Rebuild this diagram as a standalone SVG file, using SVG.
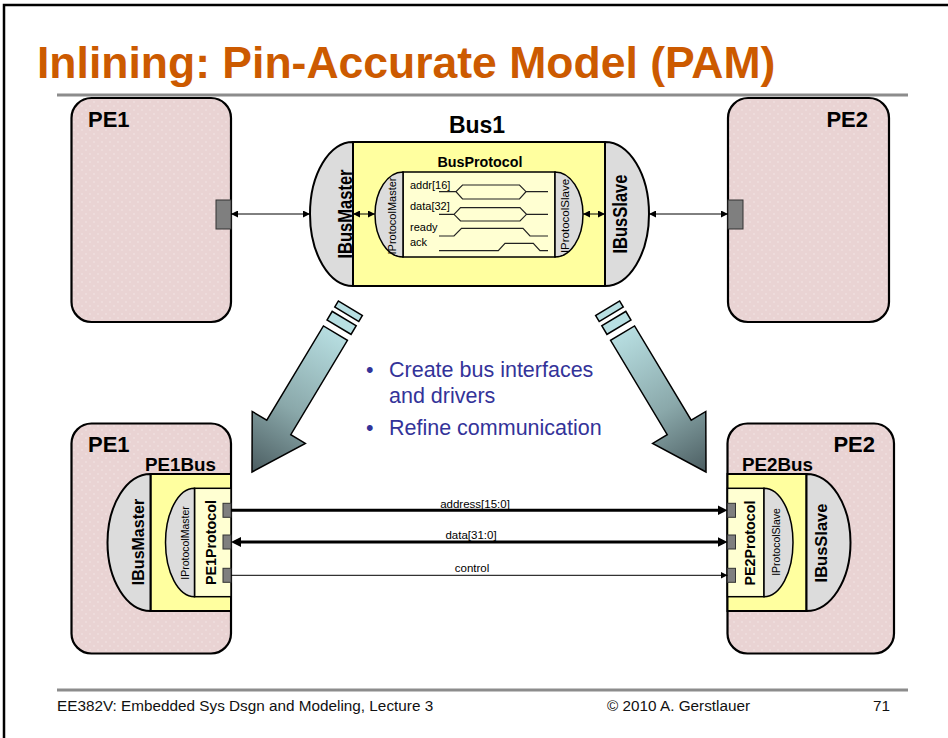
<svg xmlns="http://www.w3.org/2000/svg" width="948" height="738" viewBox="0 0 948 738">
  <defs>
    <!-- faint dotted pink used for processing elements -->
    <pattern id="dots" width="8" height="8" patternUnits="userSpaceOnUse">
      <rect width="8" height="8" fill="#E9D3D3"/>
      <circle cx="2" cy="2" r="0.8" fill="#F2E6E6"/>
      <circle cx="6" cy="6" r="0.8" fill="#F2E6E6"/>
    </pattern>
    <!-- shading along the refinement arrows (local axis, tip at x=0) -->
    <linearGradient id="shade" gradientUnits="userSpaceOnUse" x1="-165" y1="0" x2="0" y2="0">
      <stop offset="0" stop-color="#B8DFE2"/>
      <stop offset="0.55" stop-color="#8AA8AA"/>
      <stop offset="1" stop-color="#4B5D61"/>
    </linearGradient>
    <marker id="tip" markerUnits="userSpaceOnUse" viewBox="0 0 7 7" markerWidth="7" markerHeight="7" refX="7" refY="3.5" orient="auto-start-reverse">
      <path d="M0,0 L7,3.5 L0,7 Z" fill="#000"/>
    </marker>
    <marker id="tipBig" markerUnits="userSpaceOnUse" viewBox="0 0 10 10" markerWidth="10" markerHeight="10" refX="2" refY="5" orient="auto-start-reverse">
      <path d="M0,0 L10,5 L0,10 Z" fill="#000"/>
    </marker>
  </defs>
  <style>
    .pe { fill: url(#dots); stroke: #000; stroke-width: 2.2; }
    .bus { fill: #FFFF9F; stroke: #000; stroke-width: 2; }
    .proto { fill: #FFFFD2; stroke: #000; stroke-width: 1.5; }
    .ifc { fill: #DCDCDC; stroke: #000; stroke-width: 2; }
    .ifc2 { fill: #DCDCDC; stroke: #000; stroke-width: 1.5; }
    .port { fill: #7F7F7F; stroke: #333; stroke-width: 1; }
    .b { font-family: "Liberation Sans", Arial, sans-serif; font-weight: bold; fill: #000; }
    .r { font-family: "Liberation Sans", Arial, sans-serif; fill: #000; }
    .wave { fill: none; stroke: #222; stroke-width: 1.2; }
    .thin { stroke: #000; stroke-width: 1; fill: none; }
    .thick { stroke: #000; stroke-width: 3; fill: none; }
    .big { fill: url(#shade); stroke: #000; stroke-width: 1.5; stroke-linejoin: miter; }
    .stripe { fill: #B8DFE2; stroke: #000; stroke-width: 1.5; }
    .rule { stroke: #8C8C8C; stroke-width: 3; }
  </style>

  <!-- slide frame -->
  <path d="M4,738 V5 H948" fill="none" stroke="#000" stroke-width="2.5"/>

  <!-- title -->
  <text x="37" y="78" font-family="Liberation Sans, Arial, sans-serif" font-weight="bold" font-size="44.5" fill="#CC5A00">Inlining: Pin-Accurate Model (PAM)</text>
  <line class="rule" x1="57" y1="95" x2="908" y2="95"/>

  <!-- upper processing elements -->
  <g id="pe1-top">
    <rect class="pe" x="71.5" y="98" width="159.5" height="224" rx="20"/>
    <text class="b" x="88" y="127" font-size="22">PE1</text>
    <rect class="port" x="216" y="200" width="15" height="29"/>
  </g>
  <g id="pe2-top">
    <rect class="pe" x="728" y="98" width="161" height="224" rx="20"/>
    <text class="b" x="868" y="127" font-size="22" text-anchor="end">PE2</text>
    <rect class="port" x="728" y="200" width="15" height="29"/>
  </g>

  <!-- bus channel -->
  <g id="bus1">
    <text class="b" x="477" y="133" font-size="23" text-anchor="middle">Bus1</text>
    <rect class="bus" x="353" y="142" width="252" height="144"/>
    <path class="ifc" d="M353,142 A43,72 0 0 0 353,286 Z"/>
    <path class="ifc" d="M605,142 A44,72 0 0 1 605,286 Z"/>
    <text class="b" transform="translate(352,214) rotate(-90)" font-size="20" text-anchor="middle" textLength="89" lengthAdjust="spacingAndGlyphs">IBusMaster</text>
    <text class="b" transform="translate(627,214) rotate(-90)" font-size="20" text-anchor="middle" textLength="79" lengthAdjust="spacingAndGlyphs">IBusSlave</text>

    <text class="b" x="480" y="167" font-size="14.3" text-anchor="middle">BusProtocol</text>
    <rect class="proto" x="403" y="172" width="152" height="85"/>
    <path class="ifc2" d="M403,172 A28,42.5 0 0 0 403,257 Z"/>
    <path class="ifc2" d="M555,172 A28,42.5 0 0 1 555,257 Z"/>
    <text class="r" transform="translate(396,216) rotate(-90)" font-size="11" text-anchor="middle">IProtocolMaster</text>
    <text class="r" transform="translate(569,216) rotate(-90)" font-size="11.5" text-anchor="middle">IProtocolSlave</text>

    <g class="r" font-size="11">
      <text x="410" y="189">addr[16]</text>
      <text x="410" y="210">data[32]</text>
      <text x="410" y="231">ready</text>
      <text x="410" y="246">ack</text>
    </g>
    <path class="wave" d="M439,191.7 H456 M456,191.7 L462.5,185 H519.5 L526,191.7 L519.5,199 H462.5 Z M526,191.7 H548"/>
    <path class="wave" d="M439,214.3 H454 M454,214.3 L460.5,207.7 H520 L526.5,214.3 L520,221 H460.5 Z M526.5,214.3 H548"/>
    <path class="wave" d="M439,236 H454 L461.5,228.3 H523 L530,236 H548"/>
    <path class="wave" d="M439,250.7 H498.3 L505,243.3 H533.3 L540,250.7 H548"/>
  </g>

  <!-- refinement arrows -->
  <g id="refine-left" transform="translate(252,472) rotate(121)">
    <path class="big" d="M0,0 L-52,-31 L-52,-14 L-162,-14 L-162,14 L-52,14 L-52,31 Z"/>
    <rect class="stripe" x="-179" y="-14" width="10" height="28"/>
    <rect class="stripe" x="-191" y="-14" width="7" height="28"/>
  </g>
  <g id="refine-right" transform="translate(958,0) scale(-1,1)">
    <g transform="translate(252,472) rotate(121)">
      <path class="big" d="M0,0 L-52,-31 L-52,-14 L-162,-14 L-162,14 L-52,14 L-52,31 Z"/>
      <rect class="stripe" x="-179" y="-14" width="10" height="28"/>
      <rect class="stripe" x="-191" y="-14" width="7" height="28"/>
    </g>
  </g>

  <!-- refinement steps -->
  <g id="notes" font-family="Liberation Sans, Arial, sans-serif" font-size="21.5" fill="#333399">
    <text x="366" y="377">•</text>
    <text x="389" y="377">Create bus interfaces</text>
    <text x="389" y="403">and drivers</text>
    <text x="366" y="435">•</text>
    <text x="389" y="435">Refine communication</text>
  </g>

  <!-- lower processing element 1 with inlined bus driver -->
  <g id="pe1-bottom">
    <rect class="pe" x="71.5" y="423.5" width="159.5" height="230" rx="20"/>
    <text class="b" x="88" y="452" font-size="22">PE1</text>
    <text class="b" x="145" y="471" font-size="17.5" textLength="71" lengthAdjust="spacingAndGlyphs">PE1Bus</text>
    <rect class="bus" x="150.5" y="474" width="80.5" height="137"/>
    <path class="ifc" d="M150.5,474 A43,68.5 0 0 0 150.5,611 Z"/>
    <text class="b" transform="translate(144,542) rotate(-90)" font-size="16" text-anchor="middle">IBusMaster</text>
    <rect class="proto" x="194.5" y="488.3" width="36.5" height="108.4"/>
    <path class="ifc2" d="M194.5,488.3 A29,54.2 0 0 0 194.5,596.7 Z"/>
    <text class="r" transform="translate(188.5,543) rotate(-90)" font-size="10.5" text-anchor="middle">IProtocolMaster</text>
    <text class="b" transform="translate(216,542.5) rotate(-90)" font-size="14.3" text-anchor="middle">PE1Protocol</text>
    <rect class="port" x="223" y="503.3" width="8" height="14"/>
    <rect class="port" x="223" y="535" width="8" height="14"/>
    <rect class="port" x="223" y="568.3" width="8" height="14"/>
  </g>

  <!-- lower processing element 2 with inlined bus driver -->
  <g id="pe2-bottom">
    <rect class="pe" x="727.5" y="423.5" width="166.5" height="230" rx="20"/>
    <text class="b" x="875" y="452" font-size="22" text-anchor="end">PE2</text>
    <text class="b" x="742" y="471" font-size="17.5" textLength="71" lengthAdjust="spacingAndGlyphs">PE2Bus</text>
    <rect class="bus" x="727.5" y="474" width="79" height="137"/>
    <path class="ifc" d="M806.5,474 A44,68.5 0 0 1 806.5,611 Z"/>
    <text class="b" transform="translate(827,543) rotate(-90)" font-size="16.5" text-anchor="middle">IBusSlave</text>
    <rect class="proto" x="727.5" y="488.3" width="36.5" height="108.4"/>
    <path class="ifc2" d="M764,488.3 A29,54.2 0 0 1 764,596.7 Z"/>
    <text class="r" transform="translate(780,542) rotate(-90)" font-size="10.5" text-anchor="middle">IProtocolSlave</text>
    <text class="b" transform="translate(755,543) rotate(-90)" font-size="14.3" text-anchor="middle">PE2Protocol</text>
    <rect class="port" x="727.5" y="503.3" width="8" height="14"/>
    <rect class="port" x="727.5" y="535" width="8" height="14"/>
    <rect class="port" x="727.5" y="568.3" width="8" height="14"/>
  </g>

  <!-- connectors -->
  <g id="connectors">
    <line class="thin" x1="231" y1="214" x2="310" y2="214" marker-start="url(#tip)" marker-end="url(#tip)"/>
    <line class="thin" x1="649" y1="214" x2="728" y2="214" marker-start="url(#tip)" marker-end="url(#tip)"/>
    <line class="thin" x1="353" y1="214" x2="375" y2="214" marker-start="url(#tip)" marker-end="url(#tip)"/>
    <line class="thin" x1="583" y1="214" x2="605" y2="214" marker-start="url(#tip)" marker-end="url(#tip)"/>

    <line class="thick" x1="231" y1="510.3" x2="719.5" y2="510.3" marker-end="url(#tipBig)"/>
    <line class="thick" x1="239" y1="542" x2="719.5" y2="542" marker-start="url(#tipBig)" marker-end="url(#tipBig)"/>
    <line class="thin" x1="231" y1="575.3" x2="727.5" y2="575.3" marker-end="url(#tip)"/>
    <g class="r" font-size="11.5" text-anchor="middle">
      <text x="475" y="507.5">address[15:0]</text>
      <text x="471" y="539">data[31:0]</text>
      <text x="472" y="572">control</text>
    </g>
  </g>

  <!-- footer -->
  <line class="rule" x1="57" y1="690" x2="908" y2="690"/>
  <g font-family="Liberation Sans, Arial, sans-serif" font-size="15.3" fill="#111">
    <text x="57" y="711">EE382V: Embedded Sys Dsgn and Modeling, Lecture 3</text>
    <text x="607" y="711">© 2010 A. Gerstlauer</text>
    <text x="890" y="711" text-anchor="end">71</text>
  </g>
</svg>
